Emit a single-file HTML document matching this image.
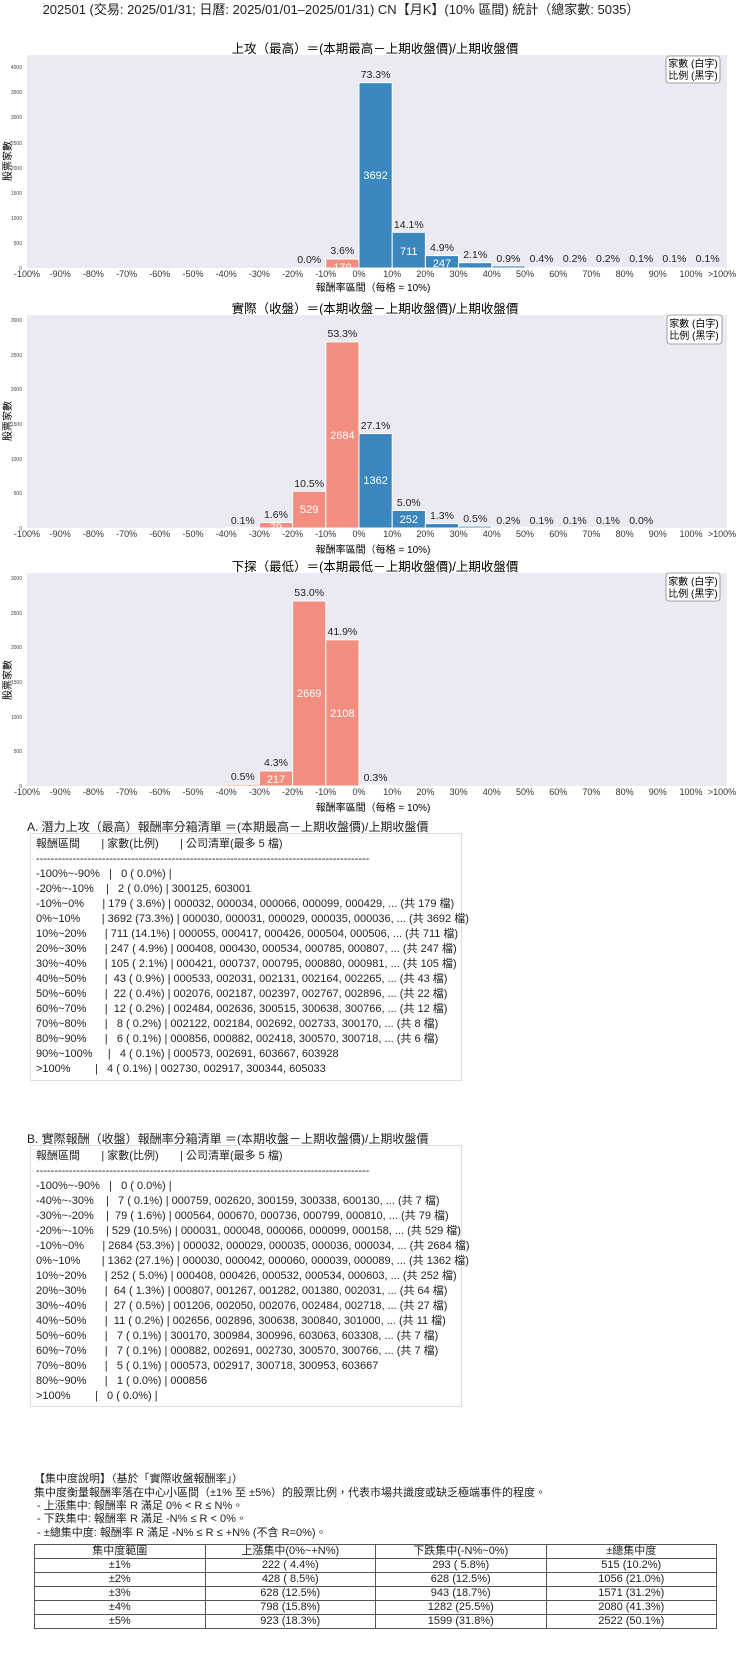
<!DOCTYPE html>
<html><head><meta charset="utf-8">
<style>
body{margin:0;background:#fff;width:740px;height:1660px;position:relative;overflow:hidden;font-family:"Liberation Sans","Noto Sans CJK TC",sans-serif;color:#222}
svg{position:absolute;left:0;top:0}
.h{position:absolute;left:27px;font-size:12px;white-space:nowrap}
.box{position:absolute;left:30px;width:432px;border:1px solid #ddd;font-size:11px;line-height:15px;white-space:pre;padding-left:5px;box-sizing:border-box}
.txt{position:absolute;left:34px;font-size:11px;line-height:14px;white-space:nowrap}
table{position:absolute;left:34px;top:1544px;width:683px;border-collapse:collapse;font-size:11px}
td{border:1px solid #555;height:14px;padding:0;text-align:center;line-height:13px;width:25%;box-sizing:border-box}
</style></head><body>
<svg width="740" height="820" font-family="Liberation Sans, Noto Sans CJK TC, sans-serif">
<text x="341" y="14" font-size="13" text-anchor="middle" fill="#222">202501 (交易: 2025/01/31; 日曆: 2025/01/01–2025/01/31) CN【月K】(10% 區間) 統計（總家數: 5035）</text>

<!-- Chart 1 -->
<text x="375" y="53" font-size="12.5" text-anchor="middle">上攻（最高）＝(本期最高－上期收盤價)/上期收盤價</text>
<rect x="27" y="55" width="700" height="213" fill="#eaeaf2"/>
<g font-size="5" fill="#444" text-anchor="end">
<text x="22" y="270">0</text><text x="22" y="245">500</text><text x="22" y="220">1000</text><text x="22" y="195">1500</text><text x="22" y="170">2000</text><text x="22" y="145">2500</text><text x="22" y="119">3000</text><text x="22" y="94">3500</text><text x="22" y="69">4000</text></g>
<text transform="translate(11,161) rotate(-90)" font-size="10" text-anchor="middle">股票家數</text>
<g stroke="#fff" stroke-width="1">
<rect x="292.6" y="267.9" width="33.2" height="0.1" fill="#f28e7f"/>
<rect x="325.8" y="259" width="33.2" height="9" fill="#f28e7f"/>
<rect x="359" y="82.7" width="33.2" height="185.3" fill="#3a86bf"/>
<rect x="392.2" y="232.3" width="33.2" height="35.7" fill="#3a86bf"/>
<rect x="425.4" y="255.6" width="33.2" height="12.4" fill="#3a86bf"/>
<rect x="458.6" y="262.7" width="33.2" height="5.3" fill="#3a86bf"/>
<rect x="491.8" y="265.8" width="33.2" height="2.2" fill="#4a90c6"/>
<rect x="525" y="266.9" width="33.2" height="1.1" fill="#5c9ccd"/>
<rect x="558.2" y="267.4" width="33.2" height="0.6" fill="#6ea7d3"/>
<rect x="591.4" y="267.6" width="33.2" height="0.4" fill="#80b2d9"/>
<rect x="624.6" y="267.7" width="33.2" height="0.3" fill="#92bddf"/>
<rect x="657.8" y="267.8" width="33.2" height="0.2" fill="#a4c8e5"/>
<rect x="691" y="267.8" width="33.2" height="0.2" fill="#b6d3eb"/>
</g>
<g font-size="10.5" text-anchor="middle" fill="#222">
<text x="309.2" y="263">0.0%</text><text x="342.4" y="254">3.6%</text><text x="375.6" y="78">73.3%</text><text x="408.8" y="228">14.1%</text><text x="442" y="251">4.9%</text><text x="475.2" y="258">2.1%</text><text x="508.4" y="262">0.9%</text><text x="541.6" y="262">0.4%</text><text x="574.8" y="262">0.2%</text><text x="608" y="262">0.2%</text><text x="641.2" y="262">0.1%</text><text x="674.4" y="262">0.1%</text><text x="707.6" y="262">0.1%</text></g>
<g font-size="11" text-anchor="middle" fill="#fff">
<text x="342.4" y="271">179</text><text x="375.6" y="179">3692</text><text x="408.8" y="255">711</text><text x="442" y="267">247</text></g>
<g font-size="9" text-anchor="middle" fill="#333">
<text x="27" y="277">-100%</text><text x="60.2" y="277">-90%</text><text x="93.4" y="277">-80%</text><text x="126.6" y="277">-70%</text><text x="159.8" y="277">-60%</text><text x="193" y="277">-50%</text><text x="226.2" y="277">-40%</text><text x="259.4" y="277">-30%</text><text x="292.6" y="277">-20%</text><text x="325.8" y="277">-10%</text><text x="359" y="277">0%</text><text x="392.2" y="277">10%</text><text x="425.4" y="277">20%</text><text x="458.6" y="277">30%</text><text x="491.8" y="277">40%</text><text x="525" y="277">50%</text><text x="558.2" y="277">60%</text><text x="591.4" y="277">70%</text><text x="624.6" y="277">80%</text><text x="657.8" y="277">90%</text><text x="691" y="277">100%</text><text x="722" y="277">&gt;100%</text></g>
<text x="373" y="291" font-size="10" text-anchor="middle">報酬率區間（每格 = 10%)</text>
<rect x="666" y="56" width="54" height="27" rx="3" fill="#fff" stroke="#888" stroke-width="0.8"/>
<text x="693" y="67" font-size="10" text-anchor="middle">家數 (白字)</text><text x="693" y="79" font-size="10" text-anchor="middle">比例 (黑字)</text>

<!-- Chart 2 -->
<text x="375" y="313" font-size="12.5" text-anchor="middle">實際（收盤）＝(本期收盤－上期收盤價)/上期收盤價</text>
<rect x="27" y="315" width="700" height="213" fill="#eaeaf2"/>
<g font-size="5" fill="#444" text-anchor="end">
<text x="22" y="530">0</text><text x="22" y="495">500</text><text x="22" y="461">1000</text><text x="22" y="426">1500</text><text x="22" y="391">2000</text><text x="22" y="357">2500</text><text x="22" y="322">3000</text></g>
<text transform="translate(11,421) rotate(-90)" font-size="10" text-anchor="middle">股票家數</text>
<g stroke="#fff" stroke-width="1">
<rect x="226.2" y="527.5" width="33.2" height="0.5" fill="#f28e7f"/>
<rect x="259.4" y="522.5" width="33.2" height="5.5" fill="#f28e7f"/>
<rect x="292.6" y="491.3" width="33.2" height="36.7" fill="#f28e7f"/>
<rect x="325.8" y="341.9" width="33.2" height="186.1" fill="#f28e7f"/>
<rect x="359" y="433.6" width="33.2" height="94.4" fill="#3a86bf"/>
<rect x="392.2" y="510.5" width="33.2" height="17.5" fill="#3a86bf"/>
<rect x="425.4" y="523.6" width="33.2" height="4.4" fill="#3a86bf"/>
<rect x="458.6" y="526.1" width="33.2" height="1.9" fill="#4a90c6"/>
<rect x="491.8" y="527.2" width="33.2" height="0.8" fill="#6ea7d3"/>
<rect x="525" y="527.5" width="33.2" height="0.5" fill="#80b2d9"/>
<rect x="558.2" y="527.5" width="33.2" height="0.5" fill="#92bddf"/>
<rect x="591.4" y="527.6" width="33.2" height="0.4" fill="#a4c8e5"/>
<rect x="624.6" y="527.9" width="33.2" height="0.1" fill="#b6d3eb"/>
</g>
<g font-size="10.5" text-anchor="middle" fill="#222">
<text x="242.8" y="524">0.1%</text><text x="276" y="518">1.6%</text><text x="309.2" y="487">10.5%</text><text x="342.4" y="337">53.3%</text><text x="375.6" y="429">27.1%</text><text x="408.8" y="506">5.0%</text><text x="442" y="519">1.3%</text><text x="475.2" y="522">0.5%</text><text x="508.4" y="524">0.2%</text><text x="541.6" y="524">0.1%</text><text x="574.8" y="524">0.1%</text><text x="608" y="524">0.1%</text><text x="641.2" y="524">0.0%</text></g>
<g font-size="11" text-anchor="middle" fill="#fff">
<text x="276" y="531">79</text><text x="309.2" y="513">529</text><text x="342.4" y="439">2684</text><text x="375.6" y="484">1362</text><text x="408.8" y="523">252</text></g>
<g font-size="9" text-anchor="middle" fill="#333">
<text x="27" y="537">-100%</text><text x="60.2" y="537">-90%</text><text x="93.4" y="537">-80%</text><text x="126.6" y="537">-70%</text><text x="159.8" y="537">-60%</text><text x="193" y="537">-50%</text><text x="226.2" y="537">-40%</text><text x="259.4" y="537">-30%</text><text x="292.6" y="537">-20%</text><text x="325.8" y="537">-10%</text><text x="359" y="537">0%</text><text x="392.2" y="537">10%</text><text x="425.4" y="537">20%</text><text x="458.6" y="537">30%</text><text x="491.8" y="537">40%</text><text x="525" y="537">50%</text><text x="558.2" y="537">60%</text><text x="591.4" y="537">70%</text><text x="624.6" y="537">80%</text><text x="657.8" y="537">90%</text><text x="691" y="537">100%</text><text x="722" y="537">&gt;100%</text></g>
<text x="373" y="553" font-size="10" text-anchor="middle">報酬率區間（每格 = 10%)</text>
<rect x="667" y="315" width="55" height="29" rx="3" fill="#fff" stroke="#888" stroke-width="0.8"/>
<text x="694" y="327" font-size="10" text-anchor="middle">家數 (白字)</text><text x="694" y="339" font-size="10" text-anchor="middle">比例 (黑字)</text>

<!-- Chart 3 -->
<text x="375" y="571" font-size="12.5" text-anchor="middle">下探（最低）＝(本期最低－上期收盤價)/上期收盤價</text>
<rect x="27" y="573" width="700" height="213" fill="#eaeaf2"/>
<g font-size="5" fill="#444" text-anchor="end">
<text x="22" y="788">0</text><text x="22" y="753">500</text><text x="22" y="719">1000</text><text x="22" y="684">1500</text><text x="22" y="649">2000</text><text x="22" y="615">2500</text><text x="22" y="580">3000</text></g>
<text transform="translate(11,680) rotate(-90)" font-size="10" text-anchor="middle">股票家數</text>
<g stroke="#fff" stroke-width="1">
<rect x="226.2" y="784.3" width="33.2" height="1.7" fill="#f28e7f"/>
<rect x="259.4" y="771" width="33.2" height="15" fill="#f28e7f"/>
<rect x="292.6" y="601" width="33.2" height="185" fill="#f28e7f"/>
<rect x="325.8" y="639.8" width="33.2" height="146.2" fill="#f28e7f"/>
<rect x="359" y="785" width="33.2" height="1" fill="#6a9fc4"/>
</g>
<g font-size="10.5" text-anchor="middle" fill="#222">
<text x="242.8" y="780">0.5%</text><text x="276" y="766">4.3%</text><text x="309.2" y="596">53.0%</text><text x="342.4" y="635">41.9%</text><text x="375.6" y="781">0.3%</text></g>
<g font-size="11" text-anchor="middle" fill="#fff">
<text x="276" y="783">217</text><text x="309.2" y="697">2669</text><text x="342.4" y="717">2108</text></g>
<g font-size="9" text-anchor="middle" fill="#333">
<text x="27" y="795">-100%</text><text x="60.2" y="795">-90%</text><text x="93.4" y="795">-80%</text><text x="126.6" y="795">-70%</text><text x="159.8" y="795">-60%</text><text x="193" y="795">-50%</text><text x="226.2" y="795">-40%</text><text x="259.4" y="795">-30%</text><text x="292.6" y="795">-20%</text><text x="325.8" y="795">-10%</text><text x="359" y="795">0%</text><text x="392.2" y="795">10%</text><text x="425.4" y="795">20%</text><text x="458.6" y="795">30%</text><text x="491.8" y="795">40%</text><text x="525" y="795">50%</text><text x="558.2" y="795">60%</text><text x="591.4" y="795">70%</text><text x="624.6" y="795">80%</text><text x="657.8" y="795">90%</text><text x="691" y="795">100%</text><text x="722" y="795">&gt;100%</text></g>
<text x="373" y="811" font-size="10" text-anchor="middle">報酬率區間（每格 = 10%)</text>
<rect x="666" y="573" width="54" height="28" rx="3" fill="#fff" stroke="#888" stroke-width="0.8"/>
<text x="693" y="585" font-size="10" text-anchor="middle">家數 (白字)</text><text x="693" y="597" font-size="10" text-anchor="middle">比例 (黑字)</text>
</svg>

<div class="h" style="top:818px">A. 潛力上攻（最高）報酬率分箱清單 ＝(本期最高－上期收盤價)/上期收盤價</div>
<div class="box" style="top:833px;height:248px;padding-top:3px">報酬區間       | 家數(比例)       | 公司清單(最多 5 檔)
-------------------------------------------------------------------------------------------
-100%~-90%   |   0 ( 0.0%) |
-20%~-10%    |   2 ( 0.0%) | 300125, 603001
-10%~0%      | 179 ( 3.6%) | 000032, 000034, 000066, 000099, 000429, ... (共 179 檔)
0%~10%       | 3692 (73.3%) | 000030, 000031, 000029, 000035, 000036, ... (共 3692 檔)
10%~20%      | 711 (14.1%) | 000055, 000417, 000426, 000504, 000506, ... (共 711 檔)
20%~30%      | 247 ( 4.9%) | 000408, 000430, 000534, 000785, 000807, ... (共 247 檔)
30%~40%      | 105 ( 2.1%) | 000421, 000737, 000795, 000880, 000981, ... (共 105 檔)
40%~50%      |  43 ( 0.9%) | 000533, 002031, 002131, 002164, 002265, ... (共 43 檔)
50%~60%      |  22 ( 0.4%) | 002076, 002187, 002397, 002767, 002896, ... (共 22 檔)
60%~70%      |  12 ( 0.2%) | 002484, 002636, 300515, 300638, 300766, ... (共 12 檔)
70%~80%      |   8 ( 0.2%) | 002122, 002184, 002692, 002733, 300170, ... (共 8 檔)
80%~90%      |   6 ( 0.1%) | 000856, 000882, 002418, 300570, 300718, ... (共 6 檔)
90%~100%     |   4 ( 0.1%) | 000573, 002691, 603667, 603928
&gt;100%        |   4 ( 0.1%) | 002730, 002917, 300344, 605033</div>

<div class="h" style="top:1130px">B. 實際報酬（收盤）報酬率分箱清單 ＝(本期收盤－上期收盤價)/上期收盤價</div>
<div class="box" style="top:1145px;height:262px;padding-top:3px">報酬區間       | 家數(比例)       | 公司清單(最多 5 檔)
-------------------------------------------------------------------------------------------
-100%~-90%   |   0 ( 0.0%) |
-40%~-30%    |   7 ( 0.1%) | 000759, 002620, 300159, 300338, 600130, ... (共 7 檔)
-30%~-20%    |  79 ( 1.6%) | 000564, 000670, 000736, 000799, 000810, ... (共 79 檔)
-20%~-10%    | 529 (10.5%) | 000031, 000048, 000066, 000099, 000158, ... (共 529 檔)
-10%~0%      | 2684 (53.3%) | 000032, 000029, 000035, 000036, 000034, ... (共 2684 檔)
0%~10%       | 1362 (27.1%) | 000030, 000042, 000060, 000039, 000089, ... (共 1362 檔)
10%~20%      | 252 ( 5.0%) | 000408, 000426, 000532, 000534, 000603, ... (共 252 檔)
20%~30%      |  64 ( 1.3%) | 000807, 001267, 001282, 001380, 002031, ... (共 64 檔)
30%~40%      |  27 ( 0.5%) | 001206, 002050, 002076, 002484, 002718, ... (共 27 檔)
40%~50%      |  11 ( 0.2%) | 002656, 002896, 300638, 300840, 301000, ... (共 11 檔)
50%~60%      |   7 ( 0.1%) | 300170, 300984, 300996, 603063, 603308, ... (共 7 檔)
60%~70%      |   7 ( 0.1%) | 000882, 002691, 002730, 300570, 300766, ... (共 7 檔)
70%~80%      |   5 ( 0.1%) | 000573, 002917, 300718, 300953, 603667
80%~90%      |   1 ( 0.0%) | 000856
&gt;100%        |   0 ( 0.0%) |</div>

<div class="txt" style="top:1472px">【集中度說明】（基於「實際收盤報酬率」）</div>
<div class="txt" style="top:1486px">集中度衡量報酬率落在中心小區間（±1% 至 ±5%）的股票比例，代表市場共識度或缺乏極端事件的程度。</div>
<div class="txt" style="top:1499px">&nbsp;- 上漲集中: 報酬率 R 滿足 0% &lt; R ≤ N%。</div>
<div class="txt" style="top:1512px">&nbsp;- 下跌集中: 報酬率 R 滿足 -N% ≤ R &lt; 0%。</div>
<div class="txt" style="top:1526px">&nbsp;- ±總集中度: 報酬率 R 滿足 -N% ≤ R ≤ +N% (不含 R=0%)。</div>
<table>
<tr><td>集中度範圍</td><td>上漲集中(0%~+N%)</td><td>下跌集中(-N%~0%)</td><td>±總集中度</td></tr>
<tr><td>±1%</td><td>222 ( 4.4%)</td><td>293 ( 5.8%)</td><td>515 (10.2%)</td></tr>
<tr><td>±2%</td><td>428 ( 8.5%)</td><td>628 (12.5%)</td><td>1056 (21.0%)</td></tr>
<tr><td>±3%</td><td>628 (12.5%)</td><td>943 (18.7%)</td><td>1571 (31.2%)</td></tr>
<tr><td>±4%</td><td>798 (15.8%)</td><td>1282 (25.5%)</td><td>2080 (41.3%)</td></tr>
<tr><td>±5%</td><td>923 (18.3%)</td><td>1599 (31.8%)</td><td>2522 (50.1%)</td></tr>
</table>
</body></html>
